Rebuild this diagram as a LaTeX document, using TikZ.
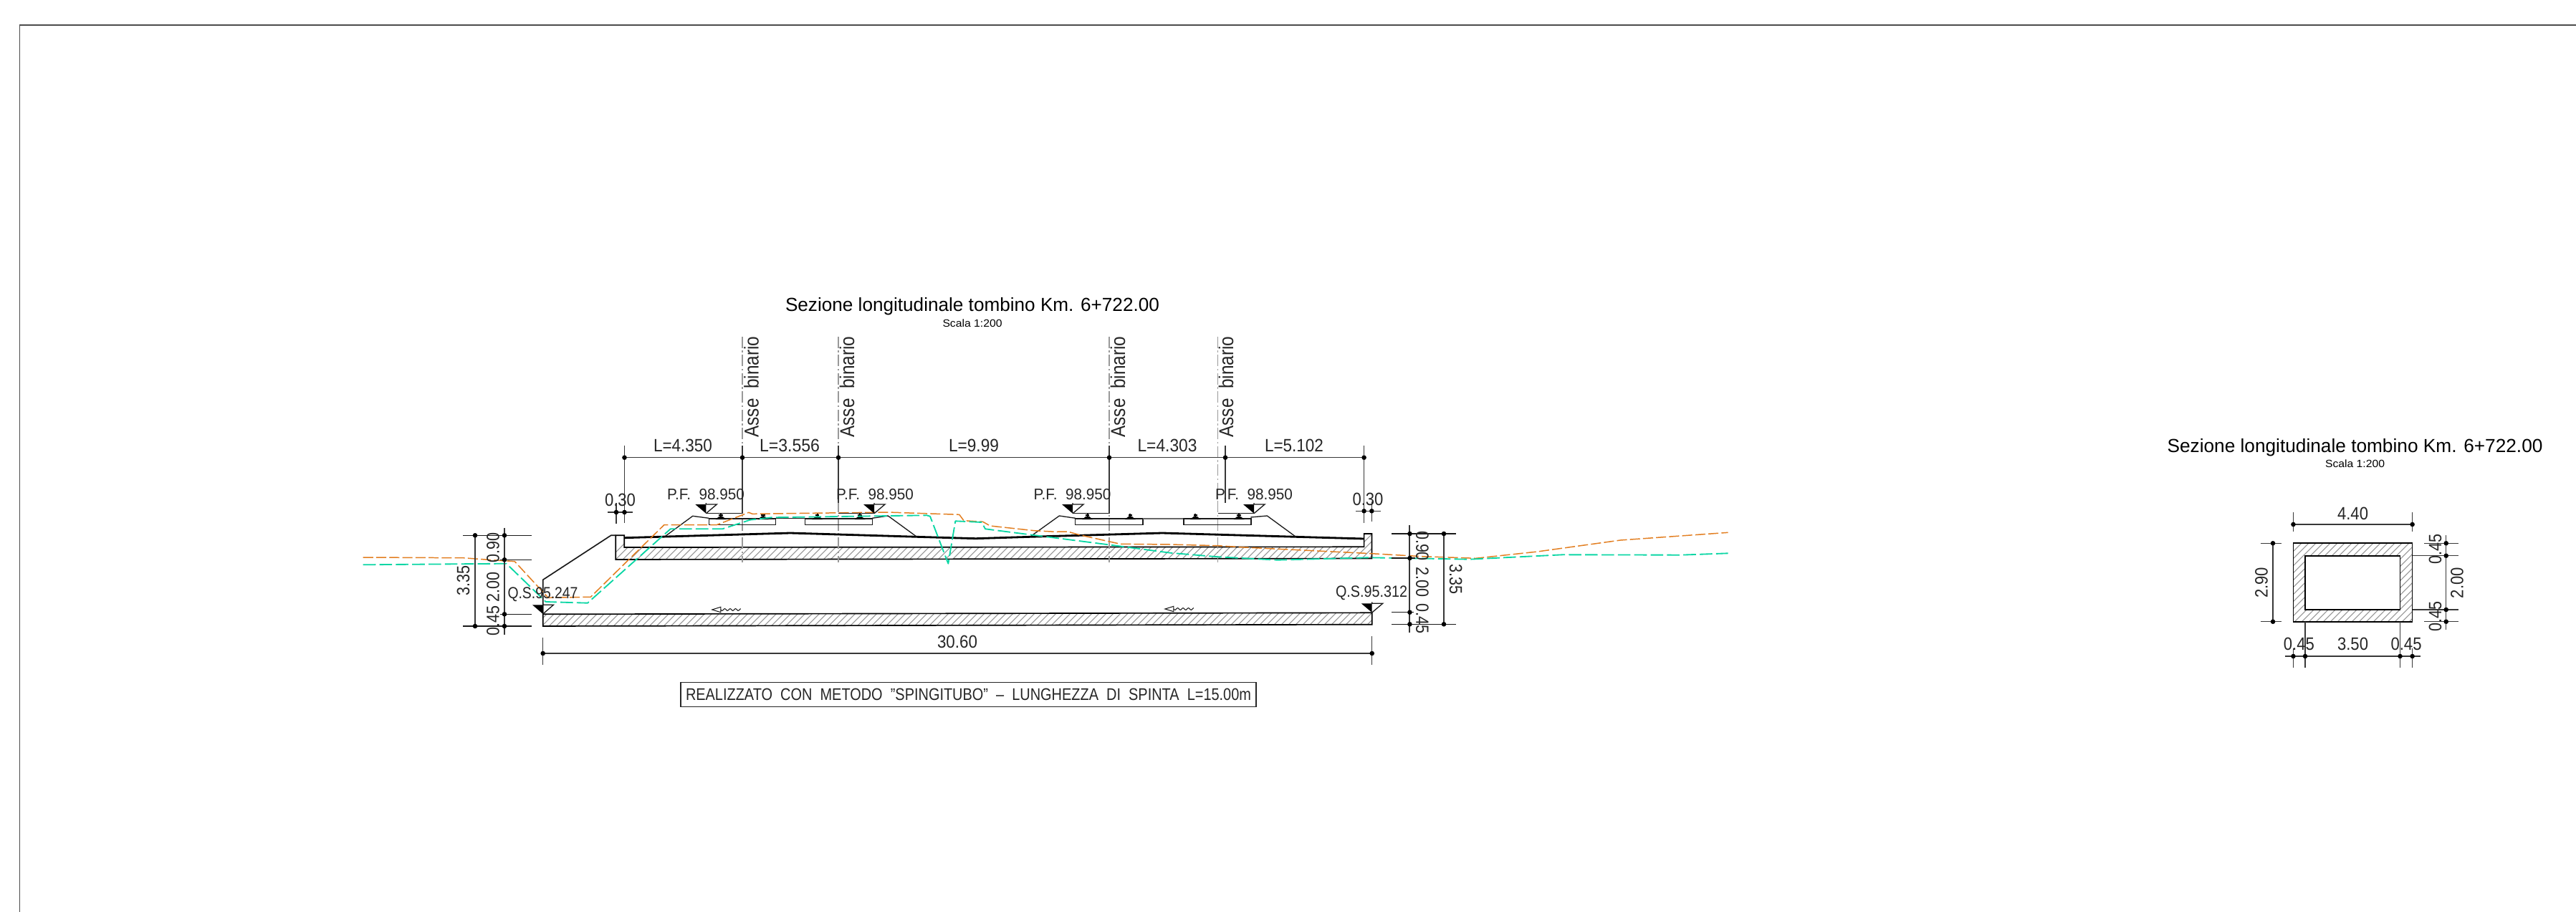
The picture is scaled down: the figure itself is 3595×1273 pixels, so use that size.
\documentclass[tikz,border=0pt]{standalone}
\usepackage{fontspec}
\setmainfont{Liberation Sans}
\newlength\pxu \setlength\pxu{0.02cm}
\newcommand\fitw[2]{\resizebox{#1\pxu}{\height}{#2}}
\newcommand\dotat[1]{\fill[black] (#1) circle (3.3);}
\newcommand\levelmark[3]{% apex x, apex y, half width
  \fill[black] (#1,#2) -- ++(-#3,-12.7) -- ++(#3,0) -- cycle;
  \draw[thinl] (#1,#2) -- ++(#3,-12.7) -- ++(-#3,0) -- ++(0,-2);}
\newcommand\railat[1]{%
  \draw[line width=1pt] (#1,717) -- (#1,725);
  \fill[black] (#1-2.6,717.5) rectangle (#1+2.6,720);
  \fill[black] (#1-7.5,725.2) -- (#1-2,720.5) -- (#1+2,720.5) -- (#1+7.5,725.2) -- cycle;}
\newcommand\flowarrow[2]{%
  \draw[thinl,line width=0.6pt] (#1,#2) -- ++(12,-3.7) -- ++(0,7.4) -- cycle;
  \draw[thinl,line width=0.6pt,domain=0:28,samples=50,smooth] plot ({#1+12+\x},{#2+1.3*sin(\x*48)});}
\tikzset{
  thinl/.style={line width=0.75pt,black!90},
  dimline/.style={line width=0.85pt,black!78},
  objline/.style={line width=0.95pt,black},
  heavy/.style={line width=1.6pt,black},
  hatchl/.style={line width=0.6pt,black!42},
  axisl/.style={line width=0.7pt,black!40,dash pattern=on 9pt off 2pt on 1.5pt off 2pt},
  orangel/.style={line width=0.85pt,color={rgb,255:red,226;green,126;blue,32},dash pattern=on 8pt off 2.4pt},
  greenl/.style={line width=1.05pt,color={rgb,255:red,10;green,214;blue,164},dash pattern=on 10pt off 3pt},
  lab/.style={inner sep=0pt,outer sep=0pt,font=\fontsize{14.2pt}{14.2pt}\selectfont,text=black!85},
  titlelab/.style={inner sep=0pt,outer sep=0pt,font=\fontsize{15pt}{15pt}\selectfont,text=black},
  scalelab/.style={inner sep=0pt,outer sep=0pt,font=\fontsize{8.4pt}{8.4pt}\selectfont,text=black},
}
\begin{document}
\begin{tikzpicture}[x=0.02cm,y=-0.02cm]
\useasboundingbox (0,0) rectangle (3595,1273);
% sheet border
\draw[line width=1.1pt,black!70] (27.5,1273) -- (27.5,35) -- (3595,35);

% --- hatched slabs
\begin{scope}
\clip (859.3,747.3) -- (871.3,747.3) -- (871.3,764) -- (1903.6,763.3) -- (1903.6,745) -- (1914.5,745) -- (1914.5,779.5) -- (859.3,781) -- cycle;
\foreach \x in {840,850,...,1950} \draw[hatchl] (\x,790) -- ++(50,-50);
\end{scope}
\begin{scope}
\clip (757.7,857.3) -- (1914.7,855.3) -- (1914.7,871.7) -- (757.7,874) -- cycle;
\foreach \x in {740,750,...,1930} \draw[hatchl] (\x,880) -- ++(30,-30);
\end{scope}
\draw[objline] (859.3,747.3) -- (871.3,747.3) -- (871.3,764) -- (1903.6,763.3) -- (1903.6,745) -- (1914.5,745) -- (1914.5,779.5) -- (859.3,781) -- cycle;
\draw[objline] (757.7,857.3) -- (1914.7,855.3) -- (1914.7,871.7) -- (757.7,874) -- cycle;

% wing wall slope
\draw[thinl,line width=0.95pt] (757.7,857.3) -- (757.7,809.3) -- (852.7,747.3) -- (859.3,747.3);

% axes
\foreach \x in {1036,1170,1548,1699.5} \draw[axisl] (\x,470) -- (\x,785);

% embankment top
\draw[heavy] (871.9,750.7) -- (1103,744) -- (1279,749.3) -- (1361.7,751.7) -- (1438,749.3) -- (1622,744) -- (1808,749.3) -- (1903.6,752);

% ballast and sleepers
\draw[thinl] (927.3,749.3) -- (966.7,720.3) -- (989.3,723.3);
\draw[thinl] (989.3,724) rectangle (1082.7,732.7);
\draw[thinl,line width=1pt] (1082.7,723.5) -- (1123.3,723.5);
\draw[thinl] (1123.3,724) rectangle (1217.3,732.7);
\draw[thinl] (1217.3,723.3) -- (1239.3,720) -- (1279,749);
\draw[thinl] (1438.3,748.7) -- (1478.3,720) -- (1500.7,723.3);
\draw[thinl] (1500.7,724) rectangle (1595,732.7);
\draw[thinl,line width=1pt,black!60] (1595,723.7) -- (1652,723.7);
\draw[thinl] (1652,724) rectangle (1746,732.7);
\draw[thinl] (1745.4,722) -- (1768.4,720) -- (1808,749);
\foreach \x in {1006,1065,1140.7,1200,1517.7,1577.3,1668.3,1729} {\railat{\x}}

% terrain
\draw[orangel,line join=round] (506.7,778) -- (646.7,778.7) -- (686.7,781.7) -- (718.3,783.7) -- (765,834.3) -- (824.3,833.3) -- (926.8,732.7) -- (1000,732.7) -- (1045,715.3) -- (1050,717.3) -- (1239,715) -- (1338.8,718.3) -- (1345,726.7) -- (1371.7,728.3) -- (1381.7,734) -- (1443.3,740.7) -- (1473,742.3) -- (1490,742) -- (1506.7,746.7) -- (1563.3,759.3) -- (1633,760) -- (1700,761.7) -- (1736.7,764) -- (1914,772.7) -- (1984,776.7) -- (2059.6,779.3) -- (2145.6,770) -- (2261.4,754) -- (2411.6,743.3);
\draw[greenl,line join=round] (506.7,788.3) -- (706.7,786.7) -- (761.7,840) -- (820,841.7) -- (935.7,738.3) -- (1008.3,738.3) -- (1046.7,725.7) -- (1076.7,722.3) -- (1293.3,719.3) -- (1298,720.7) -- (1323.3,786.7) -- (1333.3,727.3) -- (1370,729) -- (1375,738.3) -- (1550,760.7) -- (1633,771.7) -- (1700,777.3) -- (1782.7,781.7) -- (1910,778.3) -- (2050.9,780.7) -- (2180.7,774.3) -- (2345.6,774.7) -- (2411.6,772.3);

% level markers
\levelmark{985.3}{716.7}{15}
\levelmark{1220}{716.7}{15}
\levelmark{1497}{716.7}{15}
\levelmark{1750}{716.7}{15}
\levelmark{757.7}{857}{14.7}
\levelmark{1914.7}{855}{15}
\draw[thinl] (985.3,716.7) -- (1036,716.7) (1170,716.7) -- (1220,716.7) (1497,716.7) -- (1548,716.7) (1699.5,716.7) -- (1750,716.7);

% top dimension chain
\draw[dimline] (871.5,638.7) -- (1904,638.7);
\foreach \x in {871.5,1903.6} \draw[dimline] (\x,621.7) -- (\x,730);
\foreach \x in {1036,1170,1548,1710} \draw[dimline] (\x,621.7) -- (\x,702);
\draw[dimline] (1036,702) -- (1036,717) (1548,702) -- (1548,717);
\foreach \x in {871.5,1036,1170,1548,1710,1903.6} {\dotat{\x,638.7}}
\node[lab] (l1) at (953,622) {\fitw{82}{L=4.350}};
\node[lab] (l2) at (1102,622) {\fitw{84}{L=3.556}};
\node[lab] (l3) at (1359,622) {\fitw{70}{L=9.99}};
\node[lab] (l4) at (1629,622) {\fitw{83}{L=4.303}};
\node[lab] (l5) at (1806,622) {\fitw{82}{L=5.102}};

% 0,30 dimensions
\draw[dimline] (848,715) -- (883,715) (860,702) -- (860,730.7);
\dotat{860,715} \dotat{871.5,715}
\node[lab] (z1) at (865.5,698) {\fitw{43}{0.30}};
\draw[dimline] (1892,713.3) -- (1926.5,713.3) (1914.3,700) -- (1914.3,728);
\dotat{1903.6,713.3} \dotat{1914.3,713.3}
\node[lab] (z2) at (1909,697) {\fitw{43}{0.30}};

% Asse binario
\node[lab,rotate=90,font=\fontsize{16pt}{16pt}\selectfont] (a1) at (1048.5,540) {\fitw{141}{Asse\ \ binario}};
\node[lab,rotate=90,font=\fontsize{16pt}{16pt}\selectfont] (a2) at (1182,540) {\fitw{141}{Asse\ \ binario}};
\node[lab,rotate=90,font=\fontsize{16pt}{16pt}\selectfont] (a3) at (1560,540) {\fitw{141}{Asse\ \ binario}};
\node[lab,rotate=90,font=\fontsize{16pt}{16pt}\selectfont] (a4) at (1711,540) {\fitw{141}{Asse\ \ binario}};

% P.F. labels
\node[lab,font=\fontsize{12.3pt}{12.3pt}\selectfont] (p1) at (985,690.5) {\fitw{108}{P.F.\ \ 98.950}};
\node[lab,font=\fontsize{12.3pt}{12.3pt}\selectfont] (p2) at (1221,690.5) {\fitw{108}{P.F.\ \ 98.950}};
\node[lab,font=\fontsize{12.3pt}{12.3pt}\selectfont] (p3) at (1496.5,690.5) {\fitw{108}{P.F.\ \ 98.950}};
\node[lab,font=\fontsize{12.3pt}{12.3pt}\selectfont] (p4) at (1750,690.5) {\fitw{108}{P.F.\ \ 98.950}};

% Q.S. labels
\node[lab,font=\fontsize{12.8pt}{12.8pt}\selectfont] (q1) at (757.5,830) {\fitw{98}{Q.S.95.247}};
\node[lab,font=\fontsize{12.8pt}{12.8pt}\selectfont] (q2) at (1914,828) {\fitw{100}{Q.S.95.312}};

% left dimensions
\draw[dimline,line width=1.1pt] (663,747.3) -- (663,874);
\draw[dimline,line width=1.1pt] (704,736.7) -- (704,885.7);
\draw[thinl] (646,747.3) -- (741.7,747.3) (646,874) -- (741.7,874) (698,781.3) -- (741.7,781.3) (698,857.3) -- (741.7,857.3);
\dotat{663,747.3} \dotat{704,747.3} \dotat{704,781.3} \dotat{704,857.3} \dotat{663,874} \dotat{704,874}
\node[lab,rotate=90] (d1) at (646.6,810.8) {\fitw{42}{3.35}};
\node[lab,rotate=90] (d2) at (688,764) {\fitw{42}{0.90}};
\node[lab,rotate=90] (d3) at (688,819) {\fitw{42}{2.00}};
\node[lab,rotate=90] (d4) at (688,866.5) {\fitw{42}{0.45}};

% right dimensions
\draw[dimline,line width=1.1pt] (1967.4,733) -- (1967.4,883);
\draw[dimline,line width=1.1pt] (2015,745) -- (2015,871.3);
\draw[thinl] (1942,745) -- (2032,745) (1942,871.3) -- (2032,871.3) (1942,779) -- (1975,779) (1942,854.7) -- (1973,854.7);
\dotat{1967.4,745} \dotat{2015,745} \dotat{1967.4,779} \dotat{1967.4,854.7} \dotat{1967.4,871.3} \dotat{2015,871.3}
\node[lab,rotate=-90] (d5) at (1985,762) {\fitw{42}{0.90}};
\node[lab,rotate=-90] (d6) at (1985,812.5) {\fitw{42}{2.00}};
\node[lab,rotate=-90] (d7) at (1985,863) {\fitw{42}{0.45}};
\node[lab,rotate=-90] (d8) at (2031.7,808.7) {\fitw{42}{3.35}};

% flow arrows
\flowarrow{993.8}{851}
\flowarrow{1625.9}{850}

% 30.60
\draw[dimline,line width=1.2pt] (757.7,912) -- (1914.7,912);
\draw[dimline] (757.7,890) -- (757.7,928) (1914.7,888) -- (1914.7,928);
\dotat{757.7,912} \dotat{1914.7,912}
\node[lab] (tot) at (1336,895.7) {\fitw{56}{30.60}};

% note box
\node[draw=black!85,line width=0.8pt,minimum width=803\pxu,minimum height=34.5\pxu,inner sep=0pt,font=\fontsize{13.4pt}{13.4pt}\selectfont,text=black!85] (note) at (1351.5,969.5) {\fitw{789}{REALIZZATO\ \ CON\ \ METODO\ \ "SPINGITUBO"\ \ --\ \ LUNGHEZZA\ \ DI\ \ SPINTA\ \ L=15.00m}};

% titles
\node[titlelab] (t1) at (1357,428) {\fitw{522}{Sezione longitudinale tombino Km. 6+722.00}};
\node[scalelab] (s1) at (1357,451.7) {\fitw{83}{Scala 1:200}};
\node[titlelab] (t2) at (3286.5,625) {\fitw{524}{Sezione longitudinale tombino Km. 6+722.00}};
\node[scalelab] (s2) at (3286.5,647.3) {\fitw{83}{Scala 1:200}};

% cross section
\begin{scope}[even odd rule]
\clip (3200.4,758.3) rectangle (3366.6,867.7) (3217,775.7) rectangle (3349.5,851);
\foreach \x in {3090,3100,...,3370} \draw[hatchl] (\x,880) -- ++(130,-130);
\end{scope}
\draw[objline] (3200.4,758.3) rectangle (3366.6,867.7);
\draw[objline] (3217,775.7) rectangle (3349.5,851);
% 4.40
\draw[dimline] (3200.4,732) -- (3366.6,732) (3200.4,715) -- (3200.4,741.7) (3366.6,715) -- (3366.6,741.7);
\dotat{3200.4,732} \dotat{3366.6,732}
\node[lab] (c1) at (3283.5,716.7) {\fitw{43}{4.40}};
% 2.90
\draw[dimline] (3172,758.3) -- (3172,867.7) (3154.8,758.3) -- (3184,758.3) (3154.8,867.7) -- (3184,867.7);
\dotat{3172,758.3} \dotat{3172,867.7}
\node[lab,rotate=90] (c2) at (3156,813.3) {\fitw{43}{2.90}};
% right chain
\draw[dimline] (3413.7,747.3) -- (3413.7,879.3) (3383,758.3) -- (3430.7,758.3) (3366.6,775.7) -- (3430.7,775.7) (3366.6,851) -- (3430.7,851) (3383,867.7) -- (3430.7,867.7);
\dotat{3413.7,758.3} \dotat{3413.7,775.7} \dotat{3413.7,851} \dotat{3413.7,867.7}
\node[lab,rotate=90] (c3) at (3398.5,766.7) {\fitw{42}{0.45}};
\node[lab,rotate=90] (c4) at (3398.5,860) {\fitw{42}{0.45}};
\node[lab,rotate=90] (c5) at (3429,813.7) {\fitw{43}{2.00}};
% bottom chain
\draw[dimline] (3188.6,916) -- (3378.4,916) (3217,867.7) -- (3217,932.3) (3349.5,867.7) -- (3349.5,932.3) (3200.4,905) -- (3200.4,932.3) (3366.6,905) -- (3366.6,932.3);
\dotat{3200.4,916} \dotat{3217,916} \dotat{3349.5,916} \dotat{3366.6,916}
\node[lab] (c6) at (3208.4,899.3) {\fitw{43}{0.45}};
\node[lab] (c7) at (3283.5,899.3) {\fitw{43}{3.50}};
\node[lab] (c8) at (3358,899.3) {\fitw{43}{0.45}};
\end{tikzpicture}
\end{document}
